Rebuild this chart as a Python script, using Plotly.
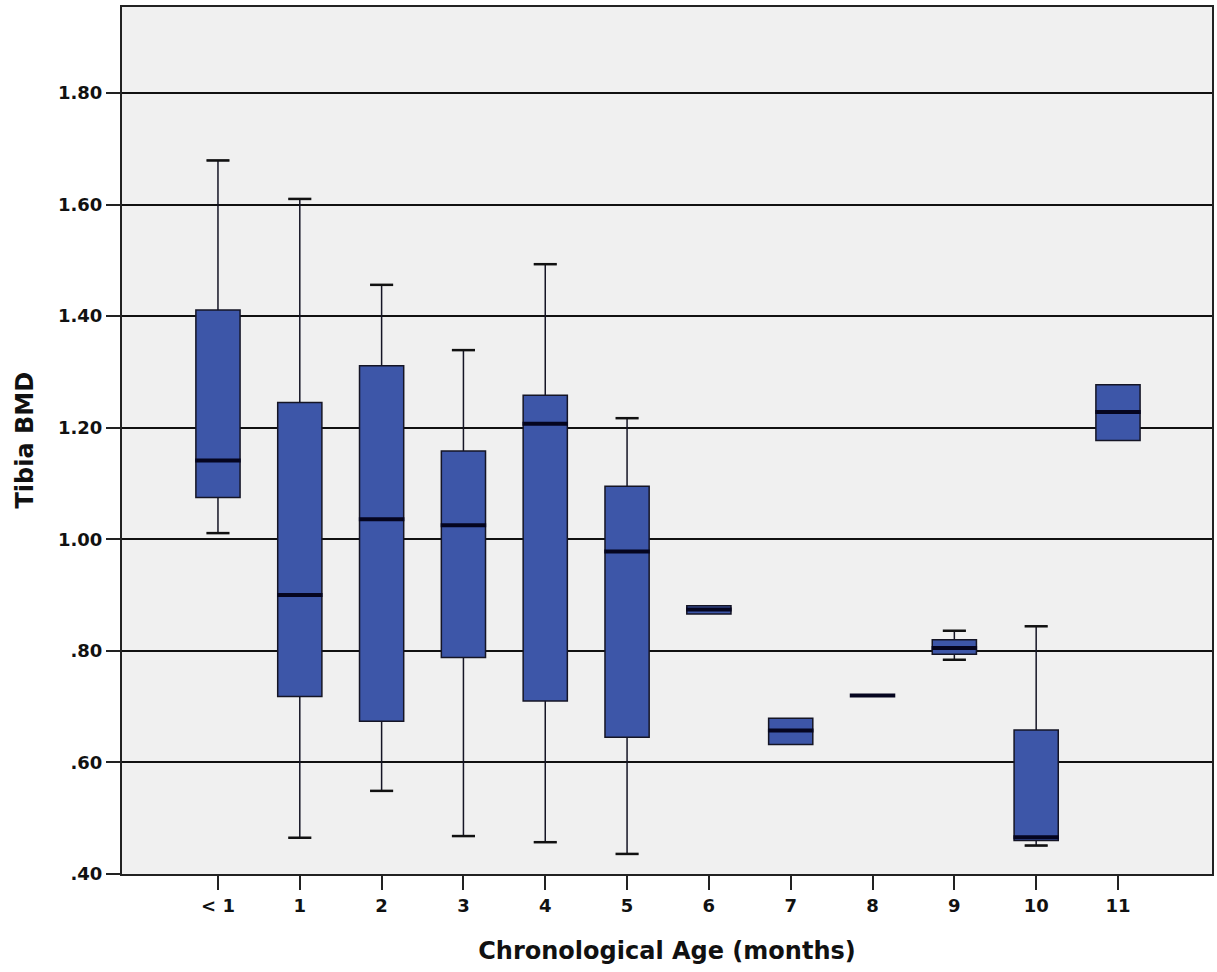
import plotly.graph_objects as go

categories = ["< 1", "1", "2", "3", "4", "5", "6", "7", "8", "9", "10", "11"]
lower_whisker = [1.011, 0.465, 0.549, 0.468, 0.457, 0.436, 0.866, 0.632, 0.720, 0.784, 0.451, 1.177]
q1 = [1.075, 0.718, 0.674, 0.788, 0.710, 0.645, 0.866, 0.632, 0.720, 0.794, 0.460, 1.177]
median = [1.141, 0.900, 1.036, 1.025, 1.207, 0.978, 0.874, 0.657, 0.720, 0.805, 0.466, 1.228]
q3 = [1.411, 1.245, 1.311, 1.158, 1.258, 1.095, 0.881, 0.679, 0.720, 0.820, 0.658, 1.277]
upper_whisker = [1.679, 1.610, 1.456, 1.339, 1.493, 1.217, 0.881, 0.679, 0.720, 0.836, 0.844, 1.277]
has_caps = [True, True, True, True, True, True, False, False, False, True, True, False]

y_ticks = [0.4, 0.6, 0.8, 1.0, 1.2, 1.4, 1.6, 1.8]
y_tick_labels = [".40", ".60", ".80", "1.00", "1.20", "1.40", "1.60", "1.80"]

xpos = list(range(len(categories)))

fig = go.Figure()
fig.add_trace(go.Box(
    x=xpos, q1=q1, median=median, q3=q3,
    lowerfence=lower_whisker, upperfence=upper_whisker,
    width=0.54, fillcolor="#3D56A8",
    line=dict(color="#151525", width=1.5),
    boxpoints=False, hoverinfo="skip", showlegend=False,
))

cap_x = [x for x, c in zip(xpos, has_caps) if c]
cap_lo = [v for v, c in zip(lower_whisker, has_caps) if c]
cap_hi = [v for v, c in zip(upper_whisker, has_caps) if c]
fig.add_trace(go.Scatter(
    x=cap_x + cap_x, y=cap_lo + cap_hi, mode="markers",
    marker=dict(symbol="line-ew-open", size=16.5, color="#111111",
                line=dict(color="#111111", width=2.5)),
    hoverinfo="skip", showlegend=False,
))
fig.add_trace(go.Scatter(
    x=xpos, y=median, mode="markers",
    marker=dict(symbol="line-ew-open", size=32.5, color="#05051f",
                line=dict(color="#05051f", width=4)),
    hoverinfo="skip", showlegend=False,
))

font_family = "DejaVu Sans, Arial, sans-serif"
fig.update_layout(
    width=1217, height=972,
    margin=dict(l=122, r=5, t=7, b=98),
    paper_bgcolor="white", plot_bgcolor="#F0F0F0",
    font=dict(family=font_family, color="#111111"),
    xaxis=dict(
        range=[-1.173, 12.149], tickvals=xpos, ticktext=categories,
        ticks="outside", ticklen=14, tickwidth=2, tickcolor="#222222",
        showgrid=False, zeroline=False, automargin=False,
        showline=True, linecolor="#222222", linewidth=2, mirror=True,
        tickfont=dict(size=18, family=font_family, weight="bold"),
        title=dict(text="<b>Chronological Age (months)</b>", font=dict(size=24), standoff=28),
    ),
    yaxis=dict(
        range=[0.40, 1.954], tickvals=y_ticks, ticktext=y_tick_labels,
        ticks="outside", ticklen=14, tickwidth=2, tickcolor="#222222",
        showgrid=True, gridcolor="#111111", gridwidth=1.5, zeroline=False, automargin=False,
        showline=True, linecolor="#222222", linewidth=2, mirror=True,
        tickfont=dict(size=18, family=font_family, weight="bold"),
    ),
    annotations=[dict(
        text="<b>Tibia BMD</b>", textangle=-90, font=dict(size=24, family=font_family),
        xref="paper", yref="paper", x=0, y=0.5, xanchor="center", yanchor="middle",
        xshift=-98, showarrow=False,
    )],
)

fig.write_html(
    "out.html",
    config={"displayModeBar": False},
    post_script="document.body.style.margin='0';document.body.style.overflow='hidden';"
                "document.documentElement.style.overflow='hidden';",
)
